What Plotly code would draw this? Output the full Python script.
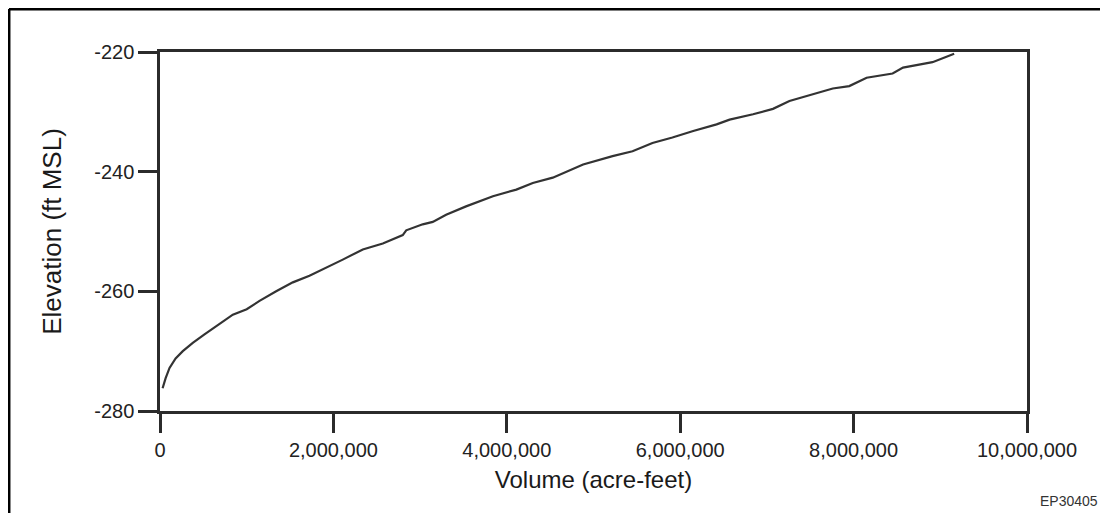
import plotly.graph_objects as go

# Reservoir storage curve (volume in acre-feet, elevation in ft MSL)
volume_af = [30000, 45000, 65000, 110000, 180000, 263000, 378000, 513000, 686000, 840000,
             1000000, 1148000, 1340000, 1532000, 1724000, 1917000, 2108000, 2339000,
             2570000, 2800000, 2840000, 3030000, 3146000, 3300000, 3530000, 3840000,
             4110000, 4300000, 4530000, 4880000, 5220000, 5450000, 5680000, 5910000,
             6150000, 6420000, 6570000, 6840000, 7070000, 7260000, 7530000, 7760000,
             7950000, 8150000, 8450000, 8570000, 8910000, 9030000, 9160000]
elevation_ft = [-276.2, -275.4, -274.5, -272.8, -271.2, -270.0, -268.6, -267.2, -265.5, -263.9,
                -263.0, -261.6, -260.0, -258.5, -257.4, -256.1, -254.7, -253.0,
                -252.0, -250.6, -249.8, -248.8, -248.4, -247.2, -245.8, -244.1,
                -243.0, -241.9, -241.0, -238.8, -237.4, -236.6, -235.2, -234.3,
                -233.2, -232.1, -231.3, -230.4, -229.5, -228.2, -227.1, -226.1,
                -225.7, -224.3, -223.6, -222.6, -221.7, -221.0, -220.3]

x_ticks = [0, 2000000, 4000000, 6000000, 8000000, 10000000]
x_tick_labels = ["0", "2,000,000", "4,000,000", "6,000,000", "8,000,000", "10,000,000"]
y_ticks = [-280, -260, -240, -220]
y_tick_labels = ["-280", "-260", "-240", "-220"]

FONT = "Liberation Sans, Arial, Helvetica, sans-serif"
INK = "#2b2b2b"

fig = go.Figure()
fig.add_trace(go.Scatter(
    x=volume_af, y=elevation_ft, mode="lines",
    line=dict(color="#333333", width=2.2),
    showlegend=False, hoverinfo="skip",
))

axis_common = dict(
    showline=True, linecolor=INK, linewidth=2.5, mirror=True,
    ticks="outside", ticklen=19, tickwidth=2.5, tickcolor=INK,
    showgrid=False, zeroline=False,
    tickfont=dict(family=FONT, size=20, color="#222222"),
)

# figure sized to sit inside the page's default 8px body margin
fig.update_layout(
    width=1092, height=505,
    margin=dict(l=152, r=73, t=44, b=102),
    paper_bgcolor="white", plot_bgcolor="white",
    xaxis=dict(range=[0, 10000000], tickvals=x_ticks, ticktext=x_tick_labels,
               title=dict(text="Volume (acre-feet)", font=dict(family=FONT, size=24, color="#1a1a1a"),
                          standoff=12),
               **axis_common),
    yaxis=dict(range=[-280, -220], tickvals=y_ticks, ticktext=y_tick_labels,
               title=dict(text="Elevation (ft MSL)", font=dict(family=FONT, size=26, color="#1a1a1a"),
                          standoff=26),
               **axis_common),
    shapes=[
        # outer frame (top and left edges visible)
        dict(type="line", xref="paper", yref="paper", x0=-0.1742, x1=1.2, y0=1.1198, y1=1.1198,
             line=dict(color="black", width=3)),
        dict(type="line", xref="paper", yref="paper", x0=-0.1742, x1=-0.1742, y0=-0.35, y1=1.1198,
             line=dict(color="black", width=3)),
    ],
    annotations=[
        dict(text="EP30405", xref="paper", yref="paper", x=1.0825, y=-0.252,
             xanchor="right", yanchor="middle", showarrow=False, borderpad=0,
             font=dict(family=FONT, size=14, color="#333333")),
    ],
)

fig.write_html("out.html")
